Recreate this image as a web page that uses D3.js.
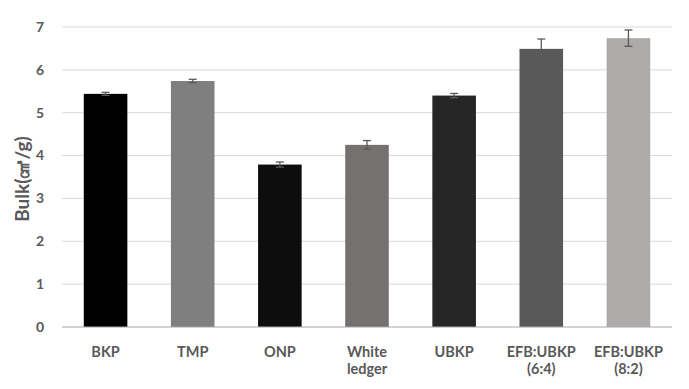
<!DOCTYPE html>
<html lang="en">
<head>
    <meta charset="UTF-8">
    <title>Bulk</title>
</head>

<style>
body { margin: 0; background: white; }
text {
    font-family: Lato, 'Open Sans', sans-serif;
    font-weight: bold;
    fill: #595959;
}
.grid line { stroke: #d9d9d9; stroke-width: 1; }
</style>

<svg height="389" width="689"></svg>

<script src="https://d3js.org/d3.v7.min.js"></script>

<script>

    var categories = ["BKP", "TMP", "ONP", "White\nledger", "UBKP", "EFB:UBKP\n(6:4)", "EFB:UBKP\n(8:2)"];
    var values = [5.44, 5.74, 3.79, 4.25, 5.40, 6.49, 6.74];
    var errors = [0.035, 0.04, 0.06, 0.1, 0.05, 0.23, 0.19];
    var barColors = ["#000000", "#7f7f7f", "#0d0d0d", "#767171", "#262626", "#595959", "#aeaaaa"];
    var yTicks = [0, 1, 2, 3, 4, 5, 6, 7];

    var svg = d3.select("svg");
    var margin = {top: 27, right: 17, bottom: 62, left: 62};
    var width = +svg.attr("width") - margin.left - margin.right,
        height = +svg.attr("height") - margin.top - margin.bottom;

    var g = svg.append("g")
        .attr("transform", "translate(" + margin.left + "," + margin.top + ")");

    var x = d3.scaleBand().domain(categories).range([0, width])
        .paddingInner(0.5).paddingOuter(0.25);
    var y = d3.scaleLinear().domain([0, 7]).range([height, 0]);

    // gridlines
    g.append("g").attr("class", "grid")
        .selectAll("line")
        .data(yTicks.slice(1))
        .enter().append("line")
        .attr("x1", 0).attr("x2", width)
        .attr("y1", function(d) { return y(d); })
        .attr("y2", function(d) { return y(d); });

    // y tick labels
    g.selectAll(".ylab")
        .data(yTicks)
        .enter().append("text")
        .attr("class", "ylab")
        .attr("x", -18)
        .attr("y", function(d) { return y(d); })
        .attr("dy", "0.35em")
        .attr("text-anchor", "end")
        .style("font-size", "14px")
        .text(function(d) { return d; });

    // bars
    g.selectAll(".bar")
        .data(values)
        .enter().append("rect")
        .attr("class", "bar")
        .attr("x", function(d, i) { return x(categories[i]); })
        .attr("width", x.bandwidth())
        .attr("y", function(d) { return y(d); })
        .attr("height", function(d) { return height - y(d); })
        .attr("fill", function(d, i) { return barColors[i]; });

    // baseline
    g.append("line")
        .attr("x1", 0).attr("x2", width)
        .attr("y1", height).attr("y2", height)
        .attr("stroke", "#a6a6a6").attr("stroke-width", 1);

    // error bars
    var eb = g.selectAll(".err")
        .data(values)
        .enter().append("g")
        .attr("class", "err")
        .attr("transform", function(d, i) {
            return "translate(" + (x(categories[i]) + x.bandwidth() / 2) + ",0)";
        })
        .attr("stroke", "#595959").attr("stroke-width", 1.3);

    eb.append("line")
        .attr("y1", function(d, i) { return y(d + errors[i]); })
        .attr("y2", function(d, i) { return y(d - errors[i]); });
    eb.append("line")
        .attr("x1", -4).attr("x2", 4)
        .attr("y1", function(d, i) { return y(d + errors[i]); })
        .attr("y2", function(d, i) { return y(d + errors[i]); });
    eb.append("line")
        .attr("x1", -4).attr("x2", 4)
        .attr("y1", function(d, i) { return y(d - errors[i]); })
        .attr("y2", function(d, i) { return y(d - errors[i]); });

    // x labels
    var xl = g.selectAll(".xlab")
        .data(categories)
        .enter().append("text")
        .attr("class", "xlab")
        .attr("text-anchor", "middle")
        .attr("transform", function(d) {
            return "translate(" + (x(d) + x.bandwidth() / 2) + "," + (height + 30) + ")";
        })
        .style("font-size", "14.5px");
    xl.selectAll("tspan")
        .data(function(d) { return d.split("\n"); })
        .enter().append("tspan")
        .attr("x", 0)
        .attr("dy", function(d, i) { return i ? "1.2em" : 0; })
        .text(function(d) { return d; });

    // y title
    svg.append("text")
        .attr("transform", "translate(29," + (margin.top + height / 2 + 2) + ") rotate(-90)")
        .attr("text-anchor", "middle")
        .style("font-size", "19px")
        .text("Bulk(㎤/g)");

</script>
</html>
